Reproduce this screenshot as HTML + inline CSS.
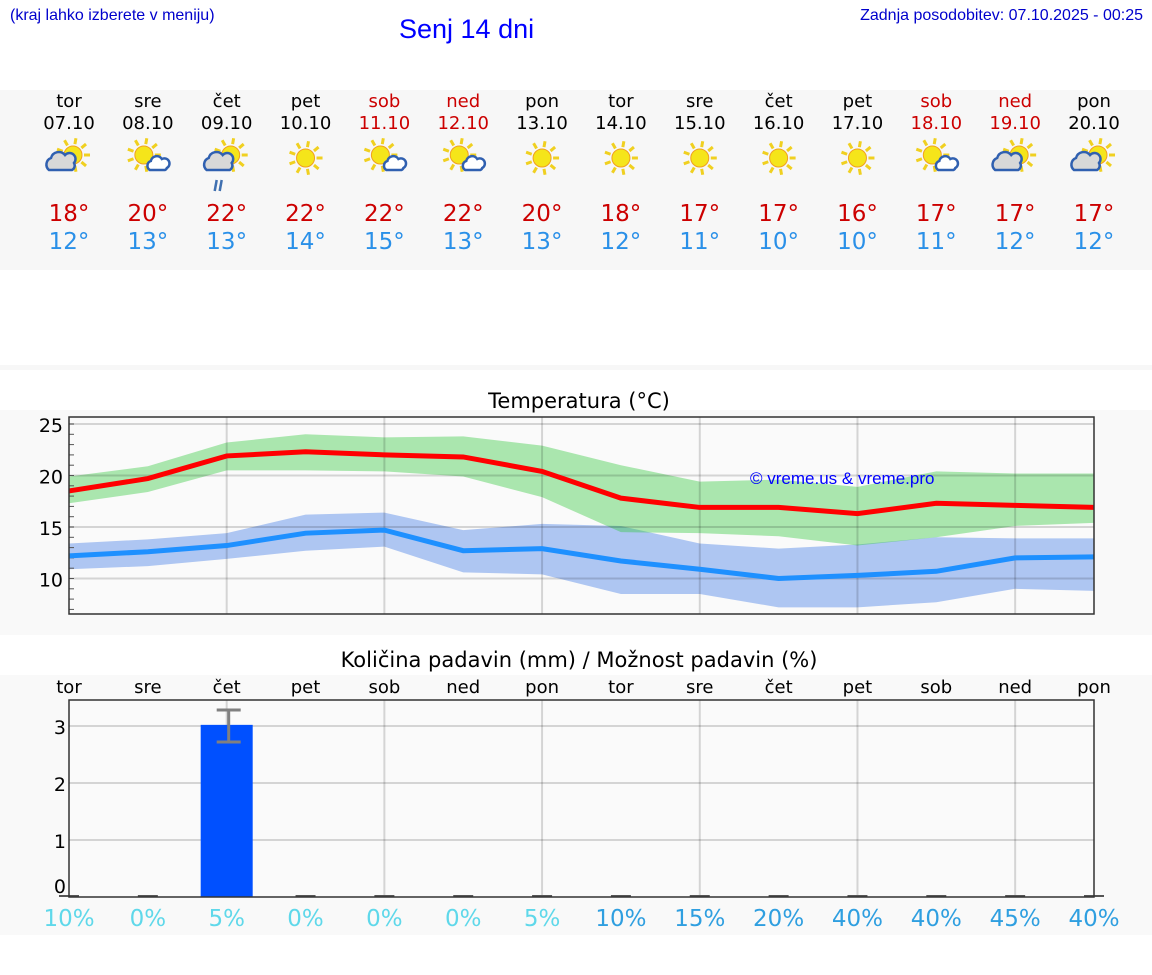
<!DOCTYPE html>
<html><head><meta charset="utf-8"><style>
body{margin:0;width:1152px;height:975px;background:#fff;font-family:"DejaVu Sans","Liberation Sans",sans-serif;position:relative;overflow:hidden}
.abs{position:absolute}
</style></head><body>
<div class="abs" style="left:10px;top:7px;font:16px 'Liberation Sans',sans-serif;color:#00c">(kraj lahko izberete v meniju)</div>
<div class="abs" style="left:399px;top:14px;font:27px 'Liberation Sans',sans-serif;color:#00f">Senj 14 dni</div>
<div class="abs" style="right:9px;top:7px;font:16px 'Liberation Sans',sans-serif;color:#00c">Zadnja posodobitev: 07.10.2025 - 00:25</div>
<svg id="main" class="abs" style="left:0;top:0" width="1152" height="975"></svg>
<script>
const days=["tor","sre","čet","pet","sob","ned","pon","tor","sre","čet","pet","sob","ned","pon"];
const dates=["07.10","08.10","09.10","10.10","11.10","12.10","13.10","14.10","15.10","16.10","17.10","18.10","19.10","20.10"];
const weekend=[0,0,0,0,1,1,0,0,0,0,0,1,1,0];
const icons=["pc","ps","rain","sun","ps","ps","sun","sun","sun","sun","sun","ps","pc","pc"];
const tmax=[18,20,22,22,22,22,20,18,17,17,16,17,17,17];
const tmin=[12,13,13,14,15,13,13,12,11,10,10,11,12,12];
const maxLine=[18.5,19.7,21.9,22.3,22,21.8,20.4,17.8,16.9,16.9,16.3,17.3,17.1,16.9];
const maxHi=[19.9,20.9,23.2,24,23.7,23.8,22.9,21,19.4,19.6,18.9,20.4,20.2,20.2];
const maxLo=[17.3,18.4,20.5,20.5,20.4,19.9,17.9,14.5,14.4,14.1,13.2,14,15.1,15.4];
const minLine=[12.2,12.6,13.2,14.4,14.7,12.7,12.9,11.7,10.9,10,10.3,10.7,12,12.1];
const minHi=[13.4,13.8,14.4,16.2,16.4,14.7,15.3,15.1,13.4,12.9,13.3,14,13.9,13.9];
const minLo=[10.9,11.2,11.9,12.7,13.1,10.6,10.4,8.5,8.5,7.2,7.2,7.7,9,8.8];
const tempTicks=[10,15,20,25];
const precip=[0,0,3.02,0,0,0,0,0,0,0,0,0,0,0];
const precipErrHi=[0,0,3.28,0,0,0,0,0,0,0,0,0,0,0];
const precipErrLo=[0,0,2.72,0,0,0,0,0,0,0,0,0,0,0];
const prob=[10,0,5,0,0,0,5,10,15,20,40,40,45,40];
const precipTicks=[0,1,2,3];

const NS="http://www.w3.org/2000/svg";
const svg=document.getElementById('main');
function mk(tag,attrs,parent,name,inter){const e=document.createElementNS(NS,tag);for(const k in attrs)e.setAttribute(k,attrs[k]);(parent||svg).appendChild(e);


return e;}
function txt(x,y,s,size,color,anchor,name){const t=mk('text',{x:x,y:y,'font-size':size,fill:color,'text-anchor':anchor||'middle','font-family':'DejaVu Sans,Liberation Sans,sans-serif'},svg,name);t.textContent=s;return t;}
const X=i=>69+i*(1094-69)/13;
mk('rect',{x:0,y:90,width:1152,height:180,fill:'#f7f7f7'},svg,'daily-panel-bg');
mk('rect',{x:0,y:365,width:1152,height:5,fill:'#f7f7f7'},svg,'separator');
mk('rect',{x:0,y:410,width:1152,height:225,fill:'#f9f9f9'},svg,'temp-panel-bg');
mk('rect',{x:0,y:675,width:1152,height:260,fill:'#f9f9f9'},svg,'precip-panel-bg');
function icon(cx,cy,type){
  const g=mk('g',{transform:`translate(${cx},${cy})`},svg,'weather-icon');
  let sx=type=='sun'?0:(type=='ps'?-4:4), sy=type=='sun'?0:-3;
  for(let a=0;a<360;a+=40){const r=a*Math.PI/180;mk('line',{x1:sx+Math.cos(r)*11,y1:sy+Math.sin(r)*11,x2:sx+Math.cos(r)*17,y2:sy+Math.sin(r)*17,stroke:'#f0d020','stroke-width':3},g,'sun-ray');}
  mk('circle',{cx:sx,cy:sy,r:9,fill:'#f5e51a',stroke:'#f0a020','stroke-width':1},g,'sun-disc');
  if(type=='pc'||type=='rain'){mk('path',{d:'M-20,12 a7,7 0 0 1 2,-12 a8,8 0 0 1 14,-3 a6,6 0 0 1 9,8 a5,5 0 0 1 -2,7 z',fill:'#d8d8d8',stroke:'#3060b0','stroke-width':2.5},g,'cloud');}
  if(type=='ps'){mk('path',{d:'M2,12 a5,5 0 0 1 1,-9 a6,6 0 0 1 11,-2 a5,5 0 0 1 5,9 a3,3 0 0 1 -2,2 z',fill:'#fff',stroke:'#3060b0','stroke-width':2.5},g,'cloud');}
  if(type=='rain'){mk('line',{x1:-10,y1:22,x2:-12,y2:33,stroke:'#4070b0','stroke-width':2.5},g,'rain-drop');mk('line',{x1:-5,y1:22,x2:-7,y2:33,stroke:'#4070b0','stroke-width':2.5},g,'rain-drop');}
}
for(let i=0;i<14;i++){
  const x=X(i),c=weekend[i]?'#c00':'#000';
  txt(x,107,days[i],18,c,'middle','day-name');
  txt(x,129,dates[i],18,c,'middle','day-date');
  icon(x,158,icons[i]);
  txt(x,221,tmax[i]+'°',23,'#c00','middle','max-temp');
  txt(x,249,tmin[i]+'°',23,'#2a90e8','middle','min-temp');
}
txt(579,408,'Temperatura (°C)',21,'#000','middle','temp-chart-title');
const TY=v=>424+(25-v)*10.3;
const area=(hi,lo)=>{let d='M'+hi.map((v,i)=>X(i)+','+TY(v)).join(' L');for(let i=13;i>=0;i--)d+=' L'+X(i)+','+TY(lo[i]);return d+'Z';};
mk('rect',{x:69,y:417,width:1025,height:197,fill:'#fafafa'},svg,'temp-plot-area');
mk('path',{d:area(minHi,minLo),fill:'rgba(60,120,230,0.4)'},svg,'min-temp-range');
mk('path',{d:area(maxHi,maxLo),fill:'rgba(50,200,60,0.4)'},svg,'max-temp-range');
tempTicks.forEach(v=>{mk('line',{x1:69,x2:1094,y1:TY(v),y2:TY(v),stroke:'rgba(0,0,0,0.15)','stroke-width':2},svg,'temp-gridline');txt(63,TY(v)+8,v,19,'#000','end','temp-tick-label');});
for(let v=7;v<=25;v++){mk('line',{x1:69,x2:74,y1:TY(v),y2:TY(v),stroke:'#555','stroke-width':1},svg,'temp-minor-tick');}
for(let i=2;i<13;i+=2)mk('line',{x1:X(i),x2:X(i),y1:417,y2:614,stroke:'rgba(0,0,0,0.15)','stroke-width':2},svg,'temp-vgridline');
mk('polyline',{points:maxLine.map((v,i)=>X(i)+','+TY(v)).join(' '),fill:'none',stroke:'#f00','stroke-width':5},svg,'max-temp-line');
mk('polyline',{points:minLine.map((v,i)=>X(i)+','+TY(v)).join(' '),fill:'none',stroke:'#1e90ff','stroke-width':5},svg,'min-temp-line');
mk('rect',{x:69,y:417,width:1025,height:197,fill:'none',stroke:'#333','stroke-width':1.5},svg,'temp-plot-frame');
const wm=txt(750,484,'© vreme.us & vreme.pro',17,'#00f','start','watermark');wm.setAttribute('font-family','Liberation Sans,sans-serif');
txt(579,667,'Količina padavin (mm) / Možnost padavin (%)',21,'#000','middle','precip-chart-title');
const PY=v=>897-v*57;
mk('rect',{x:69,y:700,width:1025,height:197,fill:'#fafafa'},svg,'precip-plot-area');
precipTicks.forEach(v=>{if(v>0)mk('line',{x1:69,x2:1094,y1:PY(v),y2:PY(v),stroke:'rgba(0,0,0,0.15)','stroke-width':2},svg,'precip-gridline');txt(66,PY(v)+(v==0?-4:8),v,19,'#000','end','precip-tick-label');});
for(let i=2;i<13;i+=2)mk('line',{x1:X(i),x2:X(i),y1:700,y2:897,stroke:'rgba(0,0,0,0.15)','stroke-width':2},svg,'precip-vgridline');
for(let i=0;i<14;i++){
  txt(X(i),693,days[i],18,'#000','middle','precip-day-name');
  const h=precip[i]*57;
  if(precip[i]>0){
    mk('rect',{x:X(i)-26,y:PY(precip[i]),width:52,height:h,fill:'#0050ff'},svg,'precip-bar');
    mk('line',{x1:X(i)+2,x2:X(i)+2,y1:PY(precipErrHi[i]),y2:PY(precipErrLo[i]),stroke:'#808080','stroke-width':3},svg,'error-bar');
    mk('line',{x1:X(i)-10,x2:X(i)+14,y1:PY(precipErrHi[i]),y2:PY(precipErrHi[i]),stroke:'#808080','stroke-width':3},svg,'error-cap');
    mk('line',{x1:X(i)-10,x2:X(i)+14,y1:PY(precipErrLo[i]),y2:PY(precipErrLo[i]),stroke:'#808080','stroke-width':3},svg,'error-cap');
  } else mk('line',{x1:X(i)-10,x2:X(i)+10,y1:896,y2:896,stroke:'#555','stroke-width':2},svg,'zero-bar');
  txt(X(i),926,prob[i]+'%',23,i<7?'#5fd8ea':'#2f9fe0','middle','precip-probability');
}
mk('rect',{x:69,y:700,width:1025,height:197,fill:'none',stroke:'#333','stroke-width':1.5},svg,'precip-plot-frame');
</script>
</body></html>
